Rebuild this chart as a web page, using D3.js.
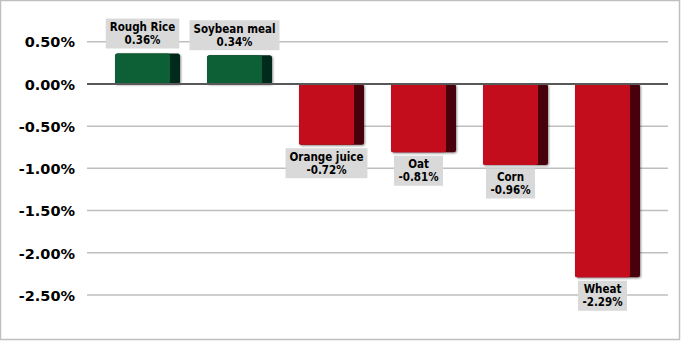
<!DOCTYPE html>
<html><head><meta charset="utf-8">
<script src="https://cdn.jsdelivr.net/npm/d3@7"></script>
<style>
html,body{margin:0;padding:0;background:#fff;}
svg{display:block;}
</style></head>
<body>
<script>
const categories = ["Rough Rice","Soybean meal","Orange juice","Oat","Corn","Wheat"];
const values = [0.36, 0.34, -0.72, -0.81, -0.96, -2.29];
const tickValues = [0.5, 0, -0.5, -1.0, -1.5, -2.0, -2.5];
const tickLabels = ["0.50%","0.00%","-0.50%","-1.00%","-1.50%","-2.00%","-2.50%"];

const W = 681, H = 341;
const svg = d3.select("body").append("svg").attr("width", W).attr("height", H);

svg.append("rect").attr("x",0.5).attr("y",0.5).attr("width",W-2).attr("height",H-2)
  .attr("fill","#fff").attr("stroke","#bfbfbf").attr("stroke-width",1.5);

const y = d3.scaleLinear().domain([-2.5, 0.5]).range([295, 41.7]);
const x = d3.scaleBand().domain(categories).range([101.5, 653.5]).paddingInner(0).paddingOuter(0);
const gridX0 = 87, gridX1 = 668;

const defs = svg.append("defs");
const f = defs.append("filter").attr("id","sh").attr("x","-20%").attr("y","-20%").attr("width","140%").attr("height","140%");
f.append("feGaussianBlur").attr("in","SourceAlpha").attr("stdDeviation",1.2).attr("result","b");
f.append("feOffset").attr("in","b").attr("dx",0.5).attr("dy",1).attr("result","o");
f.append("feComponentTransfer").attr("in","o").attr("result","o2").append("feFuncA").attr("type","linear").attr("slope",0.45);
const m = f.append("feMerge"); m.append("feMergeNode").attr("in","o2"); m.append("feMergeNode").attr("in","SourceGraphic");

// gridlines
svg.append("g").selectAll("line").data(tickValues.filter(v => v !== 0)).join("line")
  .attr("x1", gridX0).attr("x2", gridX1)
  .attr("y1", d => y(d)).attr("y2", d => y(d))
  .attr("stroke", "#bfbfbf").attr("stroke-width", 1.5);

// y axis labels
const yAxis = d3.axisLeft(y).tickValues(tickValues).tickSize(0).tickPadding(0)
  .tickFormat((d,i) => tickLabels[i]);
const ga = svg.append("g").attr("transform","translate(75,0)").call(yAxis);
ga.select(".domain").remove();
ga.selectAll("text").attr("font-family","'DejaVu Sans', Verdana, sans-serif")
  .attr("font-weight","bold").attr("font-size","14.5px").attr("fill","#000").attr("dy","0.36em");

// bars
const faceW = 55, sideW = 10;
const bars = svg.append("g").selectAll("g").data(categories).join("g").attr("filter","url(#sh)");
bars.each(function(c, i) {
  const g = d3.select(this);
  const v = values[i];
  const x0 = x(c) + (x.bandwidth() - faceW - sideW) / 2;
  const top = Math.min(y(v), y(0)), h = Math.abs(y(v) - y(0));
  const pos = v >= 0;
  g.append("rect").attr("x", x0).attr("y", top).attr("width", faceW + sideW).attr("height", h)
    .attr("rx", 2.5).attr("fill", pos ? "#05291a" : "#4a060c");
  g.append("rect").attr("x", x0).attr("y", top).attr("width", faceW).attr("height", h)
    .attr("rx", 2.5).attr("fill", pos ? "#0e5e34" : "#c4101c");
});

// zero line
svg.append("line").attr("x1", gridX0).attr("x2", gridX1).attr("y1", y(0)).attr("y2", y(0))
  .attr("stroke", "#595959").attr("stroke-width", 2);

// labels
const lab = svg.append("g").selectAll("g").data(categories).join("g");
lab.each(function(c, i) {
  const g = d3.select(this);
  const v = values[i];
  const x0 = x(c) + (x.bandwidth() - faceW - sideW) / 2;
  const cx = x0 + faceW / 2;
  const boxH = 30;
  const boxTop = v >= 0 ? y(v) - 35 : y(v) + 3.5;
  const rect = g.append("rect").attr("fill", "#d9d9d9");
  const t = g.append("text").attr("text-anchor","middle")
    .attr("font-family","'DejaVu Sans Condensed','DejaVu Sans',sans-serif")
    .attr("font-weight","bold").attr("font-size","11.5px").attr("fill","#000");
  t.append("tspan").attr("x", cx).attr("y", boxTop + 12.5).text(c);
  t.append("tspan").attr("x", cx).attr("y", boxTop + 25.5).text(v.toFixed(2) + "%");
  const bw = Math.max(t.node().getBBox().width + 8, 49);
  rect.attr("x", cx - bw/2).attr("y", boxTop).attr("width", bw).attr("height", boxH);
});
</script>
</body></html>
